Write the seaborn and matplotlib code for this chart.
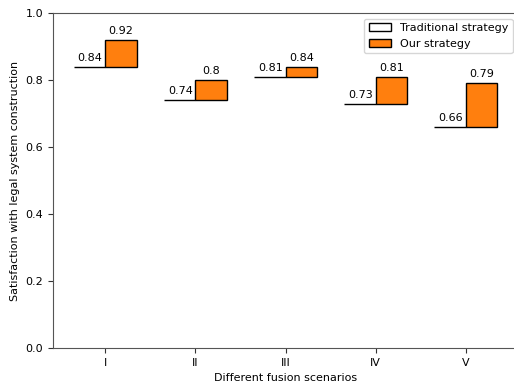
import matplotlib
matplotlib.use("Agg")
import matplotlib.pyplot as plt
from matplotlib.patches import Patch
import seaborn as sns
import pandas as pd

scenarios = ["I", "II", "III", "IV", "V"]
traditional = [0.84, 0.74, 0.81, 0.73, 0.66]
ours = [0.92, 0.80, 0.84, 0.81, 0.79]
series_names = ["Traditional strategy", "Our strategy"]
colors = {series_names[0]: "white", series_names[1]: "#ff7f0e"}

sns.set_style("ticks")
plt.rcParams["font.family"] = ["DejaVu Sans"]
plt.rcParams["font.size"] = 8
plt.rcParams["text.color"] = "black"
plt.rcParams["axes.labelcolor"] = "black"
plt.rcParams["xtick.color"] = "#333333"
plt.rcParams["ytick.color"] = "#333333"
plt.rcParams["xtick.labelcolor"] = "black"
plt.rcParams["ytick.labelcolor"] = "black"

diff = [o - t for o, t in zip(ours, traditional)]
df = pd.DataFrame({
    "scenario": scenarios * 2,
    "strategy": [series_names[0]] * len(scenarios) + [series_names[1]] * len(scenarios),
    "value": [0.0] * len(scenarios) + diff,
})

fig = plt.figure(figsize=(5.14, 3.85), dpi=100)
ax = fig.add_axes([0.103, 0.096, 0.905, 0.870])

sns.barplot(data=df, x="scenario", y="value", hue="strategy",
            palette=colors, width=0.7, dodge=True, errorbar=None, saturation=1,
            edgecolor="black", linewidth=1.0, bottom=traditional, legend=False, ax=ax)

for i, (t, o) in enumerate(zip(traditional, ours)):
    ax.text(i - 0.03, t + 0.012, f"{t:g}", ha="right", va="bottom", fontsize=8)
    ax.text(i + 0.175, o + 0.012, f"{o:g}", ha="center", va="bottom", fontsize=8)

ax.set_ylim(0, 1.0)
ax.set_xlim(-0.58, 4.58)
ax.set_xlabel("Different fusion scenarios", fontsize=8)
ax.set_ylabel("Satisfaction with legal system construction", fontsize=8)
ax.tick_params(labelsize=8)
for s in ax.spines.values():
    s.set_color("#555555")
handles = [Patch(facecolor=colors[n], edgecolor="black", label=n) for n in series_names]
ax.legend(handles=handles, loc="upper right", fontsize=8)

fig.savefig("out.png", dpi=100)
